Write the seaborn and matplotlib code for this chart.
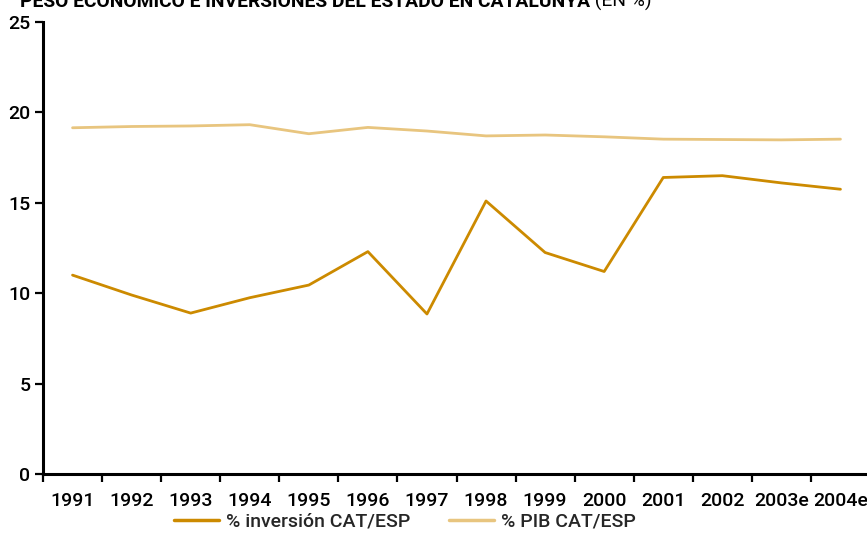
import matplotlib
matplotlib.use("Agg")
import matplotlib.pyplot as plt
import seaborn as sns
import pandas as pd
from matplotlib.ticker import FixedLocator

years = ["1991", "1992", "1993", "1994", "1995", "1996", "1997", "1998",
         "1999", "2000", "2001", "2002", "2003e", "2004e"]
inversion = [11.0, 9.9, 8.9, 9.75, 10.45, 12.3, 8.85, 15.1,
             12.25, 11.2, 16.4, 16.5, 16.1, 15.75]
pib = [19.15, 19.22, 19.25, 19.32, 18.82, 19.17, 18.97, 18.7,
       18.75, 18.65, 18.52, 18.5, 18.48, 18.52]
series_names = ["% inversión CAT/ESP", "% PIB CAT/ESP"]
series_colors = ["#CC8A00", "#E8C57F"]
yticks = [0, 5, 10, 15, 20, 25]
title = "PESO ECONÓMICO E INVERSIONES DEL ESTADO EN CATALUNYA"
title_unit = " (EN %)"

sns.set_theme(style="white")
plt.rcParams["font.family"] = ["Roboto", "DejaVu Sans"]
plt.rcParams["font.weight"] = "medium"

rows = []
for name, vals in zip(series_names, [inversion, pib]):
    for i, (y, v) in enumerate(zip(years, vals)):
        rows.append({"pos": i, "year": y, "value": v, "serie": name})
df = pd.DataFrame(rows)

fig = plt.figure(figsize=(8.67, 5.35), dpi=100)
ax = fig.add_axes([43 / 867, 1 - 474 / 535, 827 / 867, 452 / 535])

sns.lineplot(data=df, x="pos", y="value", hue="serie",
             hue_order=series_names, palette=series_colors,
             linewidth=2.0, ax=ax, legend=False, sort=False)

ax.set_xlim(-0.5, len(years) - 0.5)
ax.set_ylim(0, 25)
ax.set_xlabel("")
ax.set_ylabel("")

# year labels centred on each category, tick marks on the boundaries
ax.set_xticks(range(len(years)))
ax.set_xticklabels(years, fontsize=14, color="black")
ax.tick_params(axis="x", which="major", length=0, pad=13)
ax.xaxis.set_minor_locator(FixedLocator([i - 0.5 for i in range(len(years))]))
ax.tick_params(axis="x", which="minor", length=6, width=1.6, color="black",
               direction="out", bottom=True)

ax.set_yticks(yticks)
ax.set_yticklabels([str(t) for t in yticks], fontsize=14, color="black")
ax.tick_params(axis="y", which="major", length=6, width=1.6, color="black",
               direction="out", left=True, pad=3)

for side in ["top", "right"]:
    ax.spines[side].set_visible(False)
for side in ["left", "bottom"]:
    ax.spines[side].set_color("black")
    ax.spines[side].set_linewidth(2.2)
ax.grid(False)

handles = [plt.Line2D([], [], color=c, linewidth=2.5) for c in series_colors]
fig.legend(handles, series_names, loc="center", ncol=2,
           bbox_to_anchor=(405 / 867, 1 - 522 / 535), frameon=False,
           fontsize=14, handlelength=2.3, columnspacing=2.0,
           handletextpad=0.35)

t = fig.text(20 / 867, 1 - 7 / 535, title, fontsize=13.9, fontweight="bold",
             color="black", va="baseline", ha="left")
fig.canvas.draw()
bb = t.get_window_extent()
fig.text(bb.x1 / (8.67 * 100), 1 - 7 / 535, title_unit, fontsize=13.9,
         fontweight="normal", color="black", va="baseline", ha="left")

fig.savefig("out.png", dpi=100)
